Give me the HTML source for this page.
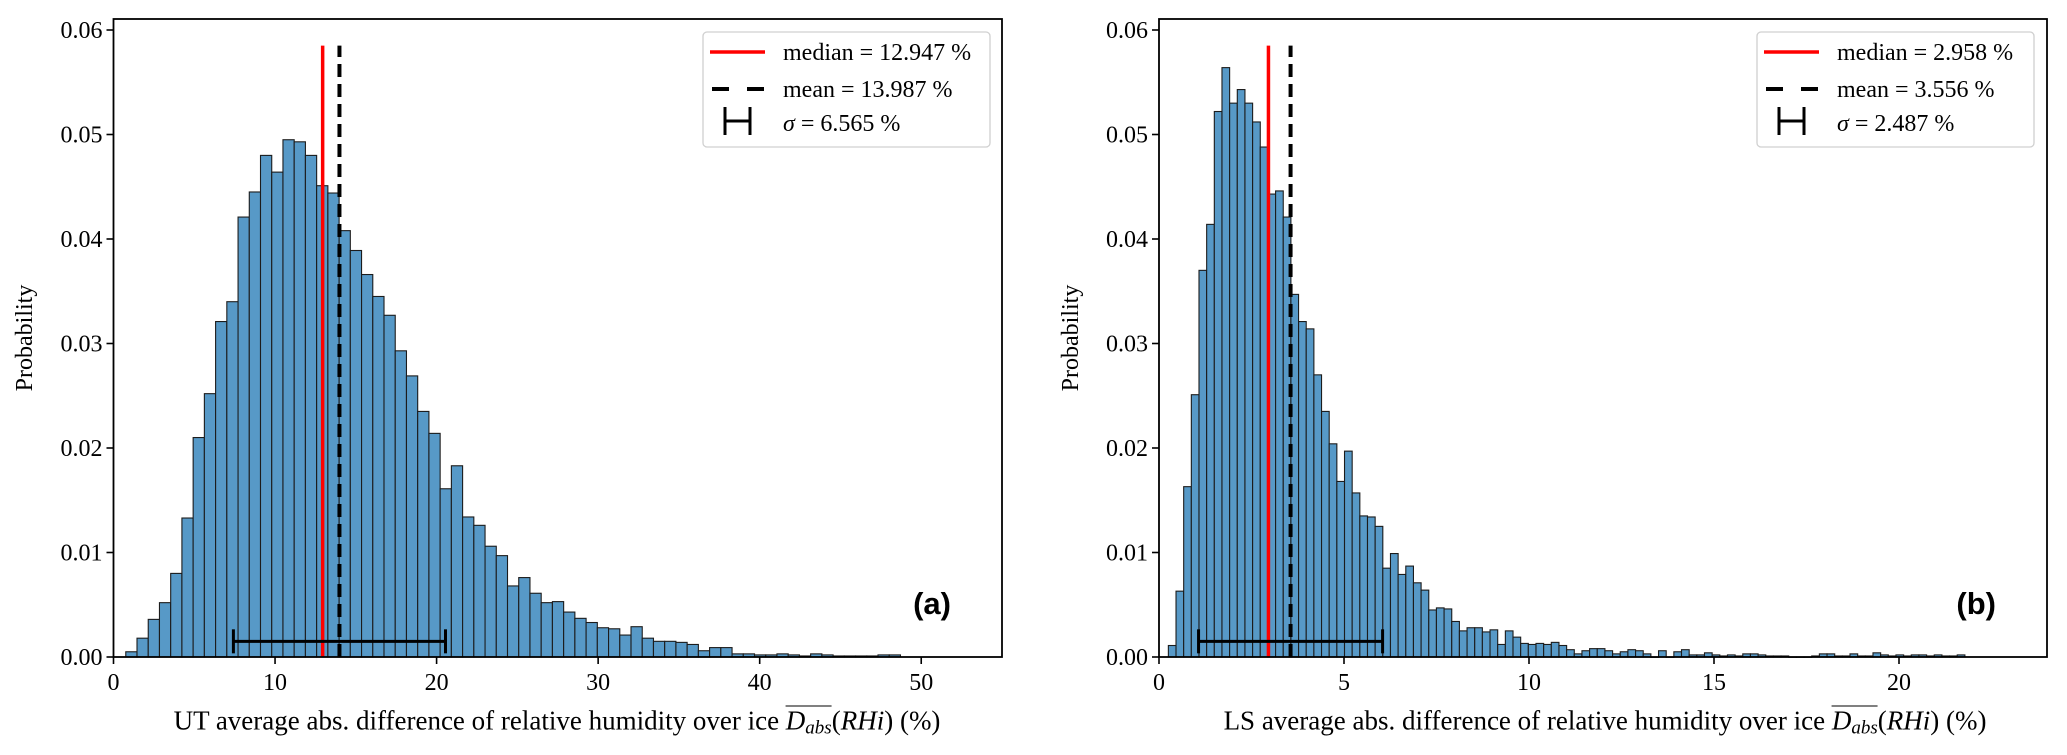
<!DOCTYPE html>
<html><head><meta charset="utf-8">
<style>
html,body{margin:0;padding:0;background:#fff;}
#wrap{position:relative;width:2067px;height:755px;overflow:hidden;font-family:"Liberation Serif",serif;}
svg{position:absolute;left:0;top:0;}
.lbl{position:absolute;font-family:"Liberation Serif",serif;font-size:27px;color:#000;white-space:nowrap;transform:translate(-50%,-50%);}
.ov{display:inline-block;border-top:1.5px solid #000;line-height:1;padding-top:1px;font-style:italic;}
.ov sub{font-size:19px;vertical-align:-4px;line-height:0;}
</style></head>
<body>
<div id="wrap">
<svg id="fig" width="2067" height="755" xmlns="http://www.w3.org/2000/svg"></svg>
<div class="lbl" style="left:557px;top:721px;">UT average abs. difference of relative humidity over ice <span class="ov">D<sub>abs</sub></span>(<i>RHi</i>) (%)</div>
<div class="lbl" style="left:1605px;top:721px;">LS average abs. difference of relative humidity over ice <span class="ov">D<sub>abs</sub></span>(<i>RHi</i>) (%)</div>
</div>
<script>
const utValues = [0.0005,0.0018,0.0036,0.0052,0.0080,0.0133,0.0210,0.0252,0.0321,0.0340,0.0421,0.0445,0.0480,0.0464,0.0495,0.0493,0.0480,0.0451,0.0444,0.0408,0.0389,0.0366,0.0345,0.0327,0.0293,0.0269,0.0235,0.0214,
0.0161,0.0183,0.0134,0.0126,0.0106,0.0097,0.0068,0.0076,0.0061,0.0052,0.0053,0.0043,0.0037,0.0033,0.0028,0.0027,0.0021,0.0029,0.0018,0.0015,0.0015,0.0014,0.0012,0.0006,0.0009,0.0009,0.0003,0.0003,0.0002,
0.0002,0.0003,0.0002,0.0001,0.0003,0.0002,0.0001,0.0001,0.0001,0.0001,0.0002,0.0002];
const utBinStart = 0.76;
const utBinWidth = 0.695;
const utStats = {median:12.947, mean:13.987, sigma:6.565};
const lsValues = [0.0011,0.0063,0.0163,0.0251,0.0370,0.0414,0.0522,0.0564,0.0530,0.0543,0.0530,0.0512,0.0488,0.0443,0.0446,0.0421,0.0347,0.0321,0.0314,0.0270,0.0235,0.0204,0.0168,0.0197,0.0157,0.0135,0.0134,0.0125,0.0085,0.0099,0.0079,0.0087,0.0071,0.0064,0.0045,0.0047,0.0046,0.0034,0.0025,0.0028,0.0028,
0.0024,0.0026,0.0012,0.0025,0.0019,0.0013,0.0012,0.0013,0.0012,0.0014,0.0011,0.0007,0.0003,0.0006,0.0008,0.0008,0.0006,0.0003,0.0005,0.0007,0.0006,0.0003,0.0000,0.0006,0.0000,0.0005,0.0007,0.0002,0.0002,0.0004,0.0002,0.0001,0.0002,0.0001,0.0003,0.0003,0.0002,0.0001,0.0001,
0.0001,0.0000,0.0000,0.0000,0.0001,0.0003,0.0003,0.0001,0.0001,0.0003,0.0001,0.0001,0.0004,0.0002,0.0001,0.0002,0.0001,0.0002,
0.0002,0.0001,0.0002,0.0001,0.0001,0.0002];
const lsBinStart = 0.253;
const lsBinWidth = 0.207;
const lsStats = {median:2.958, mean:3.556, sigma:2.487};
const yTicks = [0,0.01,0.02,0.03,0.04,0.05,0.06];
const yTickLabels = ["0.00","0.01","0.02","0.03","0.04","0.05","0.06"];
const utXTicks = [0,10,20,30,40,50];
const lsXTicks = [0,5,10,15,20];
const utLegend = ["median = 12.947 %","mean = 13.987 %","= 6.565 %"];
const lsLegend = ["median = 2.958 %","mean = 3.556 %","= 2.487 %"];

const NS="http://www.w3.org/2000/svg";
const svg=document.getElementById('fig');
function mk(tag,attrs,parent){const e=document.createElementNS(NS,tag);for(const k in attrs)e.setAttribute(k,attrs[k]);(parent||svg).appendChild(e);return e;}

function panel(p){
  const g=mk('g',{});
  
  
  const X=v=>p.x0+(v-p.xmin)/(p.xmax-p.xmin)*(p.x1-p.x0);
  const Y=v=>p.yb-v*p.ys;
  const bg=mk('g',{},g);
  
  
  p.values.forEach((v,i)=>{
    const a=p.binStart+i*p.binWidth, b=a+p.binWidth;
    const r=mk('rect',{x:X(a),y:Y(v),width:X(b)-X(a),height:Math.max(Y(0)-Y(v),0.3),fill:'#5799c7',stroke:'#1c1c1c','stroke-width':1.1},bg);
    
    
  });
  const top=Y(0.0585);
  const med=mk('line',{x1:X(p.stats.median),x2:X(p.stats.median),y1:Y(0),y2:top,stroke:'#ff0000','stroke-width':3.5},g);
  
  
  const mn=mk('line',{x1:X(p.stats.mean),x2:X(p.stats.mean),y1:Y(0),y2:top,stroke:'#000','stroke-width':4,'stroke-dasharray':'13,7'},g);
  
  
  const eg=mk('g',{},g);
  
  
  const ey=Y(0.0015), lo=X(p.stats.mean-p.stats.sigma), hi=X(p.stats.mean+p.stats.sigma);
  mk('line',{x1:lo,x2:hi,y1:ey,y2:ey,stroke:'#000','stroke-width':3},eg);
  mk('line',{x1:lo,x2:lo,y1:ey-12,y2:ey+12,stroke:'#000','stroke-width':3},eg);
  mk('line',{x1:hi,x2:hi,y1:ey-12,y2:ey+12,stroke:'#000','stroke-width':3},eg);
  const sp=mk('rect',{x:p.x0,y:p.top,width:p.x1-p.x0,height:p.yb-p.top,fill:'none',stroke:'#000','stroke-width':1.8},g);
  
  
  yTicks.forEach((t,i)=>{
    mk('line',{x1:p.x0-7,x2:p.x0,y1:Y(t),y2:Y(t),stroke:'#000','stroke-width':1.6},g);
    const tx=mk('text',{x:p.x0-11,y:Y(t)+8,'text-anchor':'end','font-size':24,'font-family':'Liberation Serif, serif'},g);
    tx.textContent=yTickLabels[i];
    
    
  });
  p.xticks.forEach(t=>{
    mk('line',{x1:X(t),x2:X(t),y1:p.yb,y2:p.yb+7,stroke:'#000','stroke-width':1.6},g);
    const tx=mk('text',{x:X(t),y:p.yb+33,'text-anchor':'middle','font-size':24,'font-family':'Liberation Serif, serif'},g);
    tx.textContent=String(t);
    
    
  });
  const yl=mk('text',{x:p.ylx,y:338,'text-anchor':'middle','font-size':24,'font-family':'Liberation Serif, serif',transform:'rotate(-90 '+p.ylx+' 338)'},g);
  yl.textContent='Probability';
  
  
  const tag=mk('text',{x:p.x1-51,y:614,'text-anchor':'end','font-size':31,'font-weight':'bold','font-family':'Liberation Sans, sans-serif'},g);
  tag.textContent=p.tag;
  
  
  const lg=mk('g',{},g);
  
  
  const lx=p.legX;
  mk('rect',{x:lx,y:32,width:p.legW,height:115,rx:4,fill:'#fff','fill-opacity':0.85,stroke:'#d0d0d0','stroke-width':1.3},lg);
  mk('line',{x1:lx+7,x2:lx+62,y1:52,y2:52,stroke:'#ff0000','stroke-width':3.5},lg);
  mk('line',{x1:lx+9,x2:lx+62,y1:89,y2:89,stroke:'#000','stroke-width':4,'stroke-dasharray':'17,18'},lg);
  mk('line',{x1:lx+22,x2:lx+47,y1:121,y2:121,stroke:'#000','stroke-width':3},lg);
  mk('line',{x1:lx+22,x2:lx+22,y1:107,y2:135,stroke:'#000','stroke-width':3},lg);
  mk('line',{x1:lx+47,x2:lx+47,y1:107,y2:135,stroke:'#000','stroke-width':3},lg);
  const rows=[60,97,131];
  p.legend.forEach((s,i)=>{
    const t=mk('text',{x:lx+80,y:rows[i],'font-size':24,'font-family':'Liberation Serif, serif'},lg);
    if(i===2){const sg=mk('tspan',{'font-style':'italic'},t);sg.textContent='σ';const r=mk('tspan',{},t);r.textContent=' '+s;}
    else t.textContent=s;
    
    
  });
}
panel({id:'ut',x0:113.5,x1:1002,xmin:0,xmax:55,yb:657,ys:10450,top:19,values:utValues,binStart:utBinStart,binWidth:utBinWidth,stats:utStats,xticks:utXTicks,ylx:32,tag:'(a)',legX:703,legW:287,legend:utLegend});
panel({id:'ls',x0:1159,x1:2047,xmin:0,xmax:24,yb:657,ys:10450,top:19,values:lsValues,binStart:lsBinStart,binWidth:lsBinWidth,stats:lsStats,xticks:lsXTicks,ylx:1078,tag:'(b)',legX:1757,legW:277,legend:lsLegend});
</script>
</body></html>
